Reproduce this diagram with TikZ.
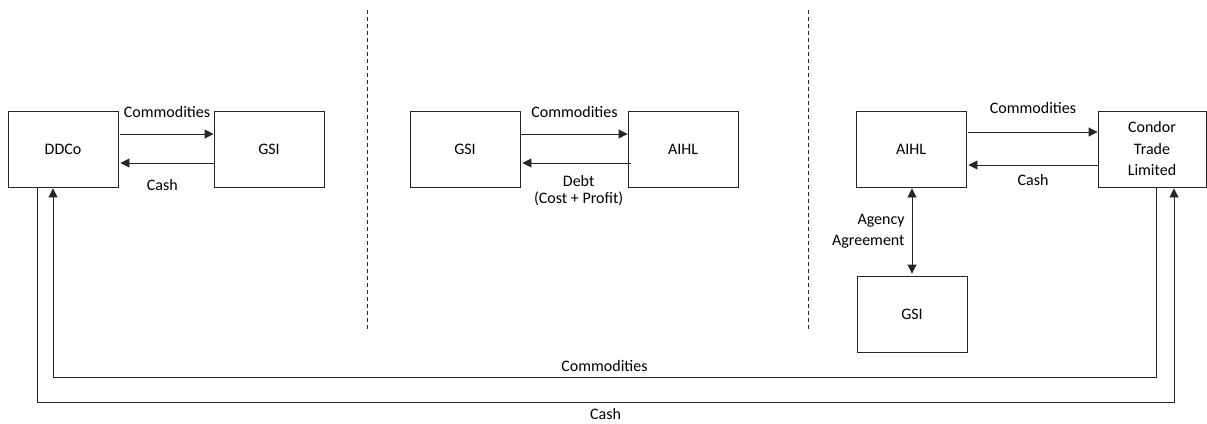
\documentclass[tikz,border=0pt]{standalone}
\usepackage{fontspec}
\setmainfont{Carlito}
\usetikzlibrary{arrows.meta}
\begin{document}
\begin{tikzpicture}[x=1pt,y=-1pt,
  box/.style={draw=black!85,line width=0.9pt,minimum width=110pt,minimum height=76pt,inner sep=0pt,align=center,font=\fontsize{16}{21.5}\selectfont},
  lbl/.style={font=\fontsize{16}{21.5}\selectfont,inner sep=1pt,align=center},
  tight/.style={font=\fontsize{16}{17}\selectfont},
  flow/.style={draw=black!85,line width=0.9pt,-{Triangle[length=9pt,width=9pt]}},
  sep/.style={draw=black!85,line width=0.8pt,dash pattern=on 4pt off 3pt}]
\useasboundingbox (0,0) rectangle (1207,423);
% boxes
\node[box] (ddco) at (63,149) {DDCo};
\node[box] (gsia) at (269,149) {GSI};
\node[box] (gsib) at (465,149) {GSI};
\node[box] (aihlb) at (683,149) {AIHL};
\node[box] (aihlc) at (911,149) {AIHL};
\node[box,minimum width=108pt] (condor) at (1152,149) {Condor\\Trade\\Limited};
\node[box] (gsic) at (912,314) {GSI};
% separators
\coordinate (s1t) at (367,10); \coordinate (s1b) at (367,330);
\coordinate (s2t) at (808,10); \coordinate (s2b) at (808,330);
\draw[sep] (s1t) -- (s1b);
\draw[sep] (s2t) -- (s2b);
% panel 1
\draw[flow] ([xshift=2pt,yshift=15pt]ddco.east) -- node[lbl,above=15pt,pos=0.5] (l1) {Commodities} ([yshift=15pt]gsia.west);
\draw[flow] ([yshift=-14pt]gsia.west) -- node[lbl,below=15pt,pos=0.55] (l2) {Cash} ([xshift=2pt,yshift=-14pt]ddco.east);
% panel 2
\draw[flow] ([xshift=1pt,yshift=15pt]gsib.east) -- node[lbl,above=15pt] (l3) {Commodities} ([yshift=15pt]aihlb.west);
\draw[flow] ([xshift=3pt,yshift=-14pt]aihlb.west) -- node[lbl,tight,below=11pt,pos=0.48] (l4) {Debt\\(Cost + Profit)} ([xshift=2pt,yshift=-14pt]gsib.east);
% panel 3
\draw[flow] ([xshift=2pt,yshift=17pt]aihlc.east) -- node[lbl,above=17pt] (l5) {Commodities} ([yshift=17pt]condor.west);
\draw[flow] ([yshift=-16pt]condor.west) -- node[lbl,below=8pt] (l6) {Cash} ([xshift=2pt,yshift=-16pt]aihlc.east);
\draw[flow,{Triangle[length=9pt,width=9pt]}-{Triangle[length=9pt,width=9pt]}] ([xshift=1pt,yshift=-1pt]aihlc.south) -- node[lbl,left=6pt,align=right] (l7) {Agency\\Agreement} ([yshift=2pt]gsic.north);
% long connectors
\coordinate (cm1) at (1156,377);
\coordinate (cm2) at (53,377);
\draw[flow] ([xshift=4pt]condor.south) -- (cm1) -- node[lbl,above=4pt] (l8) {Commodities} (cm2) -- ([xshift=-10pt,yshift=-1pt]ddco.south);
\coordinate (ch1) at (37,402);
\coordinate (ch2) at (1174,402);
\draw[flow] ([xshift=-26pt]ddco.south) -- (ch1) -- node[lbl,below=5pt] (l9) {Cash} (ch2) -- ([xshift=22pt,yshift=-1pt]condor.south);
\end{tikzpicture}
\end{document}
